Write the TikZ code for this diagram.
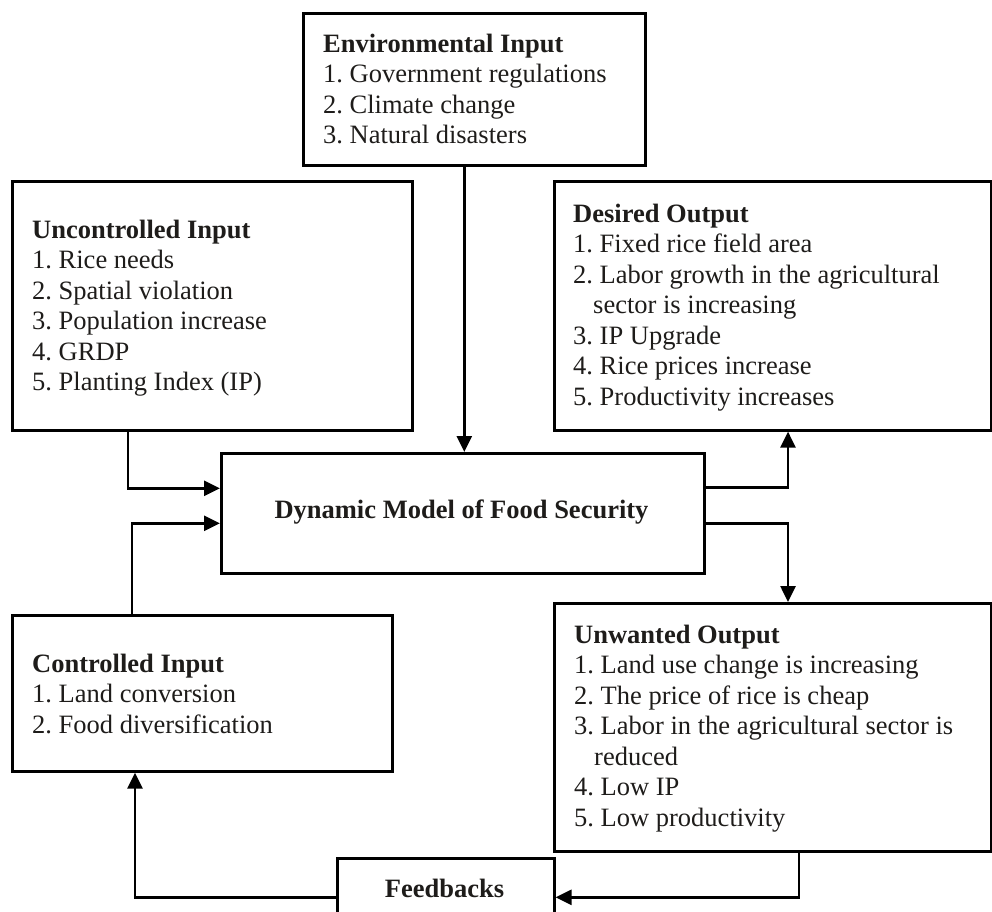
\documentclass[tikz,border=0pt]{standalone}
\usepackage{fontspec}
\setmainfont{Liberation Serif}
\usetikzlibrary{arrows.meta}
\definecolor{ink}{RGB}{30,28,26}
\frenchspacing
\begin{document}
\frenchspacing
\begin{tikzpicture}[x=1pt,y=-1pt,
  box/.style={draw, line width=2.6pt, inner sep=0pt, anchor=north west},
  txt/.style={anchor=base west, inner sep=0pt, font=\fontsize{26.5}{30.5}\selectfont, text=ink},
  ctxt/.style={anchor=base, inner sep=0pt, font=\fontsize{26.5}{30.5}\selectfont\bfseries, text=ink},
  arr/.style={line width=2.6pt, -{Triangle[length=16pt,width=15pt]}}]
\useasboundingbox (0,0) rectangle (992,911);
\clip (0,0) rectangle (992,911);
% boxes
\node[box, minimum width=342pt, minimum height=152pt] (env) at (302,12) {};
\node[box, minimum width=400pt, minimum height=249pt] (unc) at (11,180) {};
\node[box, minimum width=437pt, minimum height=249pt] (des) at (553,180) {};
\node[box, minimum width=483pt, minimum height=120pt] (dyn) at (220,452) {};
\node[box, minimum width=380pt, minimum height=156pt] (ctrl) at (11,614) {};
\node[box, minimum width=437pt, minimum height=248pt] (unw) at (553,602) {};
\node[box, minimum width=217pt, minimum height=78pt] (fb) at (336,857) {};
% texts
\node[txt] (envt) at (323,52) {\begin{tabular}[t]{@{}l@{}}\textbf{Environmental Input}\\1. Government regulations\\2. Climate change\\3. Natural disasters\end{tabular}};
\node[txt] (unct) at (32,238) {\begin{tabular}[t]{@{}l@{}}\textbf{Uncontrolled Input}\\1. Rice needs\\2. Spatial violation\\3. Population increase\\4. GRDP\\5. Planting Index (IP)\end{tabular}};
\node[txt] (dest) at (573,222) {\begin{tabular}[t]{@{}l@{}}\textbf{Desired Output}\\1. Fixed rice field area\\2. Labor growth in the agricultural\\\hspace*{20pt}sector is increasing\\3. IP Upgrade\\4. Rice prices increase\\5. Productivity increases\end{tabular}};
\node[ctxt] (dynt) at (461.5,518) {Dynamic Model of Food Security};
\node[txt] (ctrlt) at (32,672) {\begin{tabular}[t]{@{}l@{}}\textbf{Controlled Input}\\1. Land conversion\\2. Food diversification\end{tabular}};
\node[txt] (unwt) at (574,643) {\begin{tabular}[t]{@{}l@{}}\textbf{Unwanted Output}\\1. Land use change is increasing\\2. The price of rice is cheap\\3. Labor in the agricultural sector is\\\hspace*{20pt}reduced\\4. Low IP\\5. Low productivity\end{tabular}};
\node[ctxt] (fbt) at (444.5,897) {Feedbacks};
% connectors
\draw[arr] ([xshift=-10pt]env.south) -- ([xshift=-10pt]env.south |- dyn.north);
\draw[arr] ([xshift=117pt]unc.south west) |- ([yshift=25pt]dyn.west);
\draw[arr] ([xshift=121pt]ctrl.north west) |- ([yshift=-10pt]dyn.west);
\draw[arr] ([yshift=26pt]dyn.east) -| ([xshift=235pt]des.south west);
\draw[arr] ([yshift=-10pt]dyn.east) -| ([xshift=235pt]unw.north west);
\draw[arr] ([xshift=246pt]unw.south west) |- (fb.east);
\draw[arr] (fb.west) -| ([xshift=124pt]ctrl.south west);
\end{tikzpicture}
\end{document}
